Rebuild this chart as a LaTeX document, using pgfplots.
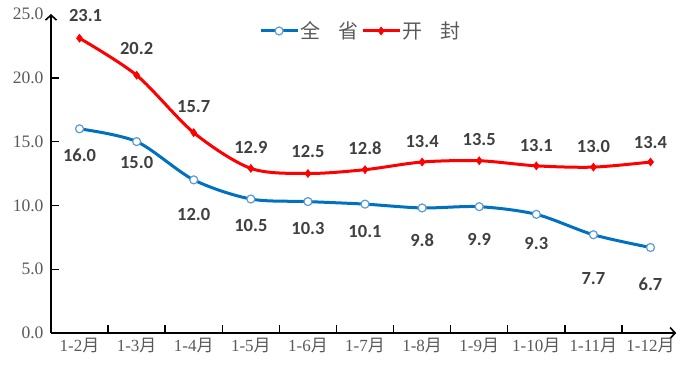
\documentclass[border=0pt]{standalone}
\usepackage{pgfplots}
\pgfplotsset{compat=1.18}
\usepackage{pgfplotstable}
\usetikzlibrary{arrows.meta}
\usepackage{fontspec}
\setmainfont{Liberation Serif}
\newfontfamily\cjk{Noto Sans CJK SC}
\newfontfamily\lab{Carlito}
\definecolor{bl}{RGB}{0,112,192}
\definecolor{blm}{RGB}{91,155,213}
\definecolor{rd}{RGB}{255,0,0}
\definecolor{lbl}{RGB}{64,64,64}
\definecolor{tk}{RGB}{89,89,89}

\pgfplotstableread{
x y dx dy
0 16.0 0 -26
1 15.0 0 -21
2 12.0 0 -35
3 10.5 0 -26
4 10.3 0 -27
5 10.1 0 -27
6 9.8 0 -32
7 9.9 0 -33
8 9.3 0 -29
9 7.7 0 -44
10 6.7 0 -37
}\blue

\pgfplotstableread{
x y dx dy
0 23.1 6 23
1 20.2 0 27
2 15.7 0 26
3 12.9 0 21
4 12.5 0 22
5 12.8 0 21
6 13.4 0 21
7 13.5 0 21
8 13.1 0 20
9 13.0 0 21
10 13.4 0 20
}\red

\begin{document}
\begin{tikzpicture}
\begin{axis}[
  scale only axis, width=625.2pt, height=319pt,
  xmin=-0.5, xmax=10.45, ymin=0, ymax=25,
  axis lines=left,
  axis line style={line width=1.6pt, black, -{Straight Barb[length=5pt,width=11pt,line width=1.6pt]}},
  clip=false,
  tick align=inside,
  major tick length=8pt,
  every tick/.style={black, line width=1.4pt},
  xtick={0.5,1.5,...,9.5}, xticklabels={},
  extra x ticks={0,1,...,10},
  extra x tick labels={1-2{\cjk 月},1-3{\cjk 月},1-4{\cjk 月},1-5{\cjk 月},1-6{\cjk 月},1-7{\cjk 月},1-8{\cjk 月},1-9{\cjk 月},1-10{\cjk 月},1-11{\cjk 月},1-12{\cjk 月}},
  extra x tick style={major tick style={draw=none}},
  ytick={0,5,...,20},
  extra y ticks={25}, extra y tick labels={25.0},
  extra y tick style={major tick style={draw=none}},
  yticklabel={\pgfmathprintnumber[fixed,zerofill,precision=1,assume math mode=true]{\tick}},
  yticklabel style={font=\fontsize{17.5}{19}\selectfont, text=tk, xshift=-4pt},
  xticklabel style={font=\fontsize{17}{19}\selectfont, text=tk, yshift=-2pt},
  every node near coord/.append style={font=\lab\bfseries\fontsize{18.5}{20}\selectfont, text=lbl, anchor=center, xshift=\dx pt, yshift=\dy pt},
  nodes near coords={\pgfmathprintnumber[fixed,zerofill,precision=1,assume math mode=true]{\pgfplotspointmeta}},
  legend image code/.code={\draw[mark repeat=2,mark phase=2,#1] plot coordinates {(0pt,0pt)(18pt,0pt)(36pt,0pt)};},
  legend style={at={(axis cs:3.15,23.67)}, anchor=west, draw=none, fill=none, legend columns=2, inner sep=0pt,
    font=\cjk\fontsize{20}{22}\selectfont, text=tk,
    /tikz/every even column/.append style={column sep=1pt}},
]
\addplot[color=bl, line width=3pt, smooth, mark=*, mark size=4pt,
  mark options={fill=white, draw=blm, line width=1.2pt},
  point meta=explicit,
  visualization depends on={\thisrow{dx}\as\dx},
  visualization depends on={\thisrow{dy}\as\dy}]
  table[x=x,y=y,meta=y]{\blue};
\addlegendentry{全\hspace{0.9em}省}
\addplot[color=rd, line width=3pt, smooth, mark=diamond*, mark size=4pt,
  mark options={fill=rd, draw=rd, line width=0.6pt},
  point meta=explicit,
  visualization depends on={\thisrow{dx}\as\dx},
  visualization depends on={\thisrow{dy}\as\dy}]
  table[x=x,y=y,meta=y]{\red};
\addlegendentry{开\hspace{0.9em}封}
\end{axis}
\pgfresetboundingbox
\useasboundingbox (-51pt,-42pt) rectangle (629pt,333pt);
\end{tikzpicture}
\end{document}
